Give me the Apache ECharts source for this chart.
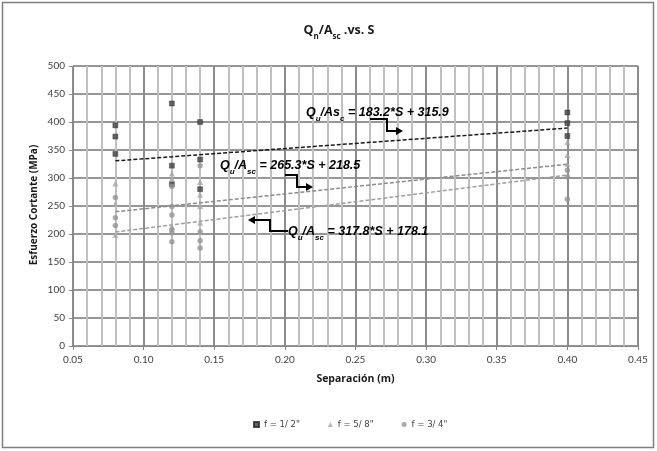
<!DOCTYPE html>
<html><head><meta charset="utf-8">
<script src="https://cdn.jsdelivr.net/npm/echarts@6/dist/echarts.min.js"></script>
<style>html,body{margin:0;padding:0;background:#fff}#c{width:657px;height:451px}</style>
</head><body><div id="c"></div>
<script>
// Series names (legend)
const seriesNames = ['f = 1/ 2"', 'f = 5/ 8"', 'f = 3/ 4"'];
// Separación (m), Qu/Asc values
const serie12 = [[0.08,394],[0.08,374],[0.08,343],[0.12,433],[0.12,322],[0.12,289],[0.14,400],[0.14,333],[0.14,280],[0.40,417],[0.40,398],[0.40,375]];
const serie58 = [[0.08,290],[0.08,254],[0.08,198],[0.12,308],[0.12,298],[0.12,214],[0.14,293],[0.14,270],[0.14,250],[0.14,220],[0.40,364],[0.40,341],[0.40,325]];
const serie34 = [[0.08,265],[0.08,229],[0.08,215],[0.12,285],[0.12,249],[0.12,234],[0.12,207],[0.12,202],[0.12,186],[0.14,322],[0.14,204],[0.14,188],[0.14,175],[0.40,314],[0.40,302],[0.40,262]];
// Trend line end points (as shown by the chart's equations)
const trend12 = [[0.08,330.6],[0.40,389.2]];
const trend58 = [[0.08,239.7],[0.40,324.6]];
const trend34 = [[0.08,203.5],[0.40,305.2]];
const xTicks = [0.05,0.10,0.15,0.20,0.25,0.30,0.35,0.40,0.45];
const yTicks = [0,50,100,150,200,250,300,350,400,450,500];

const chart = echarts.init(document.getElementById('c'), null, {renderer:'canvas'});
const FONT = 'Lato, "Liberation Sans", sans-serif';
const BFONT = '"Open Sans", "Liberation Sans", sans-serif';
const AFONT = '"Liberation Sans", sans-serif';
const annRich = {
  a:{fontFamily:AFONT,fontSize:12.5,fontWeight:'bold',fontStyle:'italic',color:'#1a1a1a',lineHeight:15,verticalAlign:'middle'},
  s:{fontFamily:AFONT,fontSize:8,fontWeight:'bold',fontStyle:'italic',color:'#1a1a1a',lineHeight:19,verticalAlign:'bottom'}
};
function arrow(points, head){
  return [
    {type:'polyline',shape:{points:points},style:{stroke:'#000',lineWidth:2,fill:null},z:20},
    {type:'polygon',shape:{points:head},style:{fill:'#000'},z:20}
  ];
}
const option = {
  animation:false,
  backgroundColor:'#fff',
  title:{
    text:'{a|Q}{s|n}{a|/A}{s|sc}{a| .vs. S}',
    left:334, textAlign:'center', top:15,
    textStyle:{rich:{
      a:{fontFamily:BFONT,fontSize:12.5,fontWeight:'bold',color:'#1a1a1a',lineHeight:16,verticalAlign:'middle'},
      s:{fontFamily:BFONT,fontSize:8,fontWeight:'bold',color:'#1a1a1a',lineHeight:21,verticalAlign:'bottom'}
    }}
  },
  grid:{left:73,right:19,top:66,bottom:105,containLabel:false},
  legend:{
    bottom:17, left:248,
    itemWidth:5,itemHeight:5,itemGap:28,
    textStyle:{fontFamily:'"DejaVu Sans", sans-serif',fontSize:8.5,color:'#404040'},
    data:[
      {name:seriesNames[0],icon:'rect'},
      {name:seriesNames[1],icon:'triangle'},
      {name:seriesNames[2],icon:'circle'}
    ]
  },
  xAxis:{
    type:'value',min:xTicks[0],max:xTicks[xTicks.length-1],interval:0.05,
    name:'Separación (m)',nameLocation:'middle',nameGap:28,
    nameTextStyle:{fontFamily:BFONT,fontSize:10.5,fontWeight:'bold',color:'#1a1a1a'},
    axisLine:{show:true,onZero:false,lineStyle:{color:'#868686',width:1}},
    axisTick:{show:true,length:4,lineStyle:{color:'#868686'}},
    axisLabel:{fontFamily:FONT,fontSize:10,color:'#404040',margin:9,formatter:v=>v.toFixed(2)},
    splitLine:{show:true,lineStyle:{color:'#8c8c8c',width:2}},
    minorTick:{show:false,splitNumber:5},
    minorSplitLine:{show:true,lineStyle:{color:'#c0c0c0',width:2}}
  },
  yAxis:{
    type:'value',min:yTicks[0],max:yTicks[yTicks.length-1],interval:50,
    axisLine:{show:true,lineStyle:{color:'#868686',width:1}},
    axisTick:{show:true,length:4,lineStyle:{color:'#868686'}},
    axisLabel:{fontFamily:FONT,fontSize:10,color:'#404040',margin:8},
    splitLine:{show:true,lineStyle:{color:'#969696',width:2}}
  },
  series:[
    {name:seriesNames[0],type:'scatter',symbol:'rect',symbolSize:5,data:serie12,
     itemStyle:{color:'#404040',borderColor:'#262626',borderWidth:0.5},z:5},
    {name:seriesNames[1],type:'scatter',symbol:'triangle',symbolSize:6,data:serie58,
     itemStyle:{color:'#a6a6a6'},z:5},
    {name:seriesNames[2],type:'scatter',symbol:'circle',symbolSize:5.5,data:serie34,
     itemStyle:{color:'#959595'},z:5},
    {name:'t12',type:'line',data:trend12,symbol:'none',lineStyle:{color:'#1a1a1a',width:1.5,type:[4,2]},z:4,silent:true},
    {name:'t58',type:'line',data:trend58,symbol:'none',lineStyle:{color:'#8c8c8c',width:1.5,type:[4,2]},z:4,silent:true},
    {name:'t34',type:'line',data:trend34,symbol:'none',lineStyle:{color:'#a0a0a0',width:1.5,type:[4,2]},z:4,silent:true}
  ],
  graphic:[
    {type:'rect',shape:{x:2.5,y:2.5,width:651,height:445},style:{fill:null,stroke:'#7f7f7f',lineWidth:1.5},z:-1,silent:true},
    {type:'text',x:34,y:205,rotation:Math.PI/2,style:{text:'Esfuerzo Cortante (MPa)',fontFamily:BFONT,fontSize:10,fontWeight:'bold',fill:'#1a1a1a',align:'center',verticalAlign:'middle'}},
    {type:'text',x:306,y:113,z:21,style:{text:'{a|Q}{s|u}{a|/As}{s|c}{a| = 183.2*S + 315.9}',rich:annRich,verticalAlign:'middle'}},
    {type:'text',x:220,y:166,z:21,style:{text:'{a|Q}{s|u}{a|/A}{s|sc}{a| = 265.3*S + 218.5}',rich:annRich,verticalAlign:'middle'}},
    {type:'text',x:288,y:232,z:21,style:{text:'{a|Q}{s|u}{a|/A}{s|sc}{a| = 317.8*S + 178.1}',rich:annRich,verticalAlign:'middle'}},
    ...arrow([[370,119],[387,119],[387,131],[397,131]],[[403,131],[396,127],[396,135]]),
    ...arrow([[285,175],[297,175],[297,187],[307,187]],[[313,187],[306,183],[306,191]]),
    ...arrow([[288,231],[270,231],[270,220],[254,220]],[[248,220],[255,216],[255,224]])
  ]
};
chart.setOption(option);
</script></body></html>
